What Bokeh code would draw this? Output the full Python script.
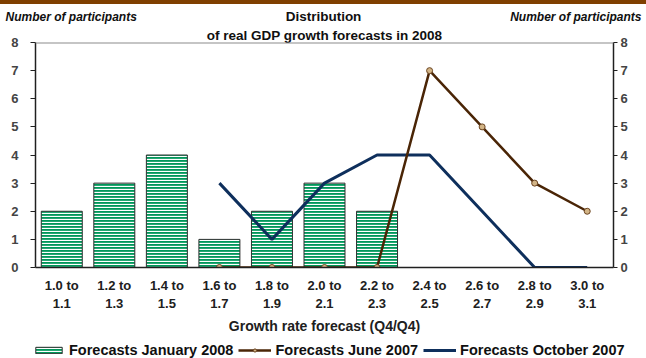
from bokeh.plotting import figure
from bokeh.layouts import column
from bokeh.models import (LinearAxis, FixedTicker, Span, Legend, LegendItem, Range1d, Title, Div)
from bokeh.core.properties import value
from bokeh.embed import file_html
from bokeh.resources import INLINE

categories = ["1.0 to\n1.1", "1.2 to\n1.3", "1.4 to\n1.5", "1.6 to\n1.7", "1.8 to\n1.9",
              "2.0 to\n2.1", "2.2 to\n2.3", "2.4 to\n2.5", "2.6 to\n2.7", "2.8 to\n2.9",
              "3.0 to\n3.1"]
jan_2008_cats = categories[0:7]
jan_2008 = [2, 3, 4, 1, 2, 3, 2]
june_2007_cats = categories[3:11]
june_2007 = [0, 0, 0, 0, 7, 5, 3, 2]
oct_2007_cats = categories[3:11]
oct_2007 = [3, 1, 3, 4, 4, 2, 0, 0]
y_ticks = [0, 1, 2, 3, 4, 5, 6, 7, 8]
header_texts = ["Number of participants", "Distribution",
                "of real GDP growth forecasts in 2008", "Number of participants"]
legend_labels = ["Forecasts January 2008", "Forecasts June 2007", "Forecasts October 2007"]
NAN = float("nan")

FONT = "Liberation Sans"
BAND_H = 4
TOP_H = 25
BOT_H = 21
MAIN_H = 358 - TOP_H - BOT_H

BAR_STYLE = dict(fill_color="#00975A", hatch_pattern="horizontal_line", hatch_color="white",
                 hatch_scale=3, hatch_weight=1.3, line_color="#303030", line_width=1)
OCT_STYLE = dict(line_color="#0E2F5C", line_width=3)
JUNE_STYLE = dict(line_color="#4A2506", line_width=2.5)
PT_STYLE = dict(size=6, fill_color="#D2B486", line_color="#6B4420", line_width=1)


def strip(y0, y1):
    f = figure(width=646, height=y1 - y0, x_range=Range1d(0, 646), y_range=Range1d(y1, y0),
               output_backend="svg", toolbar_location=None, x_axis_type=None,
               y_axis_type=None, min_border=0, frame_align=False)
    f.outline_line_color = None
    f.xgrid.visible = False
    f.ygrid.visible = False
    return f

# ---------- brown band ----------
band = Div(text="", width=646, height=BAND_H, margin=0,
           styles={"background-color": "#7F3F00"})

# ---------- header strip ----------
h = strip(BAND_H, TOP_H)
h.text(x=[5], y=[16.5], text=[header_texts[0]], text_font=value(FONT),
       text_font_style="bold italic", text_font_size="12px", text_color="#101010",
       text_align="left", text_baseline="middle")
h.text(x=[641], y=[16.5], text=[header_texts[3]], text_font=value(FONT),
       text_font_style="bold italic", text_font_size="12px", text_color="#101010",
       text_align="right", text_baseline="middle")
h.text(x=[323], y=[16], text=[header_texts[1]], text_font=value(FONT),
       text_font_style="bold", text_font_size="13.5px", text_color="#101010",
       text_align="center", text_baseline="middle")

# ---------- main chart ----------
p = figure(width=646, height=MAIN_H, x_range=categories, y_range=Range1d(0, 8),
           output_backend="svg", toolbar_location=None, frame_align=False,
           min_border_left=35, min_border_right=33, min_border_top=42 - TOP_H,
           min_border_bottom=358 - BOT_H - 267)
p.outline_line_color = None
p.xgrid.visible = False
p.ygrid.visible = False
p.add_layout(Title(text=header_texts[2], align="center", text_font=FONT,
                   text_font_style="bold", text_font_size="13.5px", text_color="#101010",
                   standoff=0, offset=0), "above")

bars = p.vbar(x=jan_2008_cats, top=jan_2008, width=0.78, bottom=0, **BAR_STYLE)
oct_line = p.line(x=oct_2007_cats, y=oct_2007, **OCT_STYLE)
june_line = p.line(x=june_2007_cats, y=june_2007, **JUNE_STYLE)
june_pts = p.scatter(x=june_2007_cats, y=june_2007, **PT_STYLE)

p.add_layout(Span(location=8, dimension="width", line_color="#8C8C8C", line_width=2))

xa = p.xaxis[0]
xa.axis_line_color = "#202020"
xa.axis_line_width = 1.5
xa.major_tick_line_color = None
xa.major_tick_out = 0
xa.major_tick_in = 0
xa.minor_tick_line_color = None
xa.major_label_text_font = FONT
xa.major_label_text_font_style = "bold"
xa.major_label_text_font_size = "13px"
xa.major_label_text_line_height = 1.25
xa.major_label_text_color = "#202020"
xa.major_label_standoff = 10
xa.axis_label = "Growth rate forecast (Q4/Q4)"
xa.axis_label_text_font = FONT
xa.axis_label_text_font_style = "bold"
xa.axis_label_text_font_size = "14px"
xa.axis_label_text_color = "#202020"
xa.axis_label_standoff = 4

ya = p.yaxis[0]
ya.ticker = FixedTicker(ticks=y_ticks)
ya.axis_line_color = "#202020"
ya.axis_line_width = 1.5
ya.major_tick_in = 0
ya.major_tick_out = 5
ya.major_tick_line_color = "#202020"
ya.minor_tick_line_color = None
ya.major_label_text_font = FONT
ya.major_label_text_font_style = "bold"
ya.major_label_text_font_size = "13px"
ya.major_label_standoff = 12

ra = LinearAxis(ticker=FixedTicker(ticks=y_ticks))
ra.axis_line_color = "#202020"
ra.axis_line_width = 1.5
ra.major_tick_in = 0
ra.major_tick_out = 4
ra.major_tick_line_color = "#202020"
ra.minor_tick_line_color = None
ra.major_label_text_font = FONT
ra.major_label_text_font_style = "bold"
ra.major_label_text_font_size = "13px"
ra.major_label_standoff = 3
p.add_layout(ra, "right")

# ---------- legend strip ----------
f = strip(0, BOT_H)
lb = f.vbar(x=[NAN], top=[NAN], width=1, **BAR_STYLE)
lj = f.line(x=[NAN], y=[NAN], **JUNE_STYLE)
lp = f.scatter(x=[NAN], y=[NAN], **PT_STYLE)
lo = f.line(x=[NAN], y=[NAN], **OCT_STYLE)
legend = Legend(items=[LegendItem(label=legend_labels[0], renderers=[lb]),
                       LegendItem(label=legend_labels[1], renderers=[lj, lp]),
                       LegendItem(label=legend_labels[2], renderers=[lo])],
                orientation="horizontal", location=(32, 0), padding=0, margin=0,
                spacing=5, label_standoff=4, glyph_width=33, glyph_height=8,
                label_text_font=FONT, label_text_font_style="bold",
                label_text_font_size="14.5px", label_text_color="#101010",
                border_line_color=None, background_fill_alpha=0)
f.add_layout(legend)

layout = column(band, h, p, f, spacing=0)
open("out.html", "w").write(file_html(layout, INLINE))
